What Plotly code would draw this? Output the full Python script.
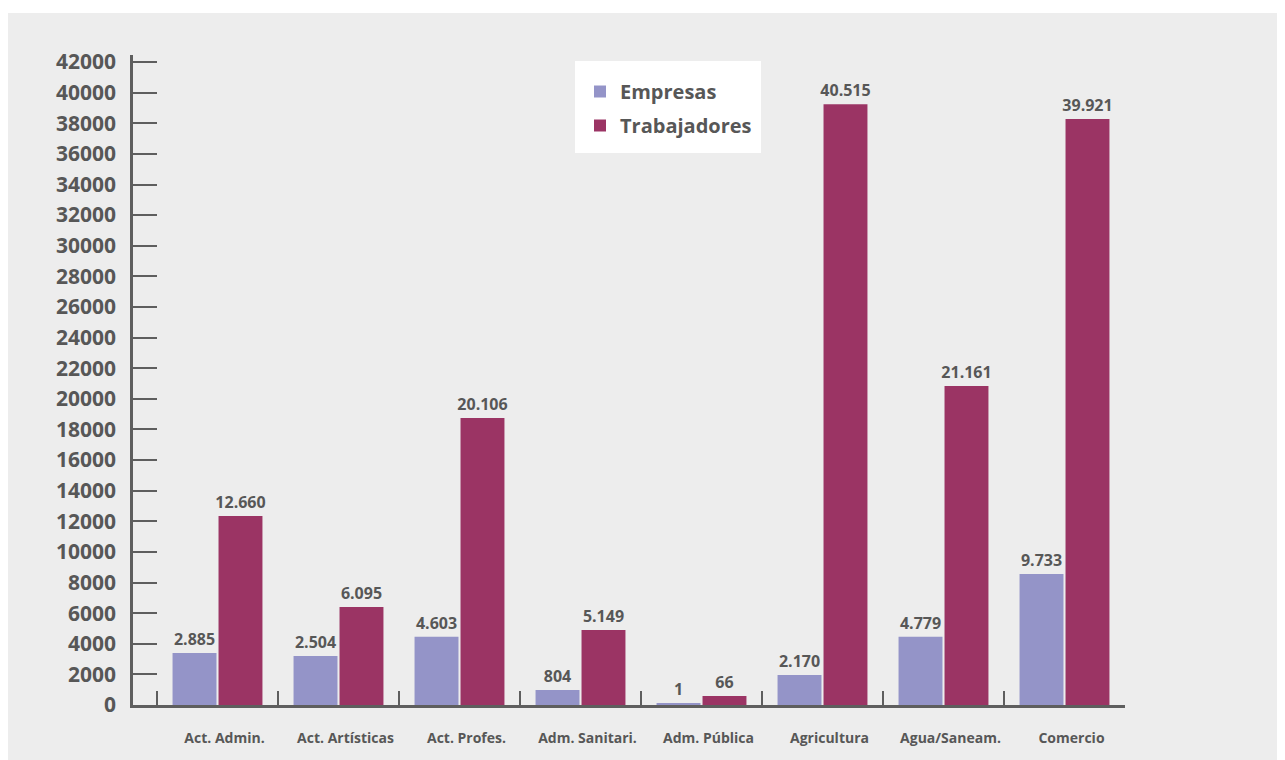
import plotly.graph_objects as go

categories = ["Act. Admin.", "Act. Artísticas", "Act. Profes.", "Adm. Sanitari.",
              "Adm. Pública", "Agricultura", "Agua/Saneam.", "Comercio"]

# bar heights as drawn in the picture
empresas_heights = [3400, 3200, 4460, 980, 100, 1960, 4460, 8560]
trabajadores_heights = [12345, 6400, 18750, 4900, 590, 39250, 20840, 38280]

# value labels printed above the bars
empresas_labels = ["2.885", "2.504", "4.603", "804", "1", "2.170", "4.779", "9.733"]
trabajadores_labels = ["12.660", "6.095", "20.106", "5.149", "66", "40.515", "21.161", "39.921"]

y_ticks = list(range(0, 42001, 2000))

GREY_TXT = "#575757"
AXIS = "#5e5e5e"
PANEL = "#ededed"
FONT = "Open Sans"

fig = go.Figure()
fig.add_trace(go.Bar(
    name="Empresas", x=categories, y=empresas_heights, legendgroup="e",
    marker=dict(color="#9494c8", line=dict(width=0)),
    text=empresas_labels, textposition="outside", cliponaxis=False,
    constraintext="none",
    textfont=dict(family=FONT, size=16, color=GREY_TXT, weight="bold"),
    hoverinfo="x+name",
))
fig.add_trace(go.Bar(
    name="Trabajadores", x=categories, y=trabajadores_heights, legendgroup="t",
    marker=dict(color="#9b3464", line=dict(width=0)),
    text=trabajadores_labels, textposition="outside", cliponaxis=False,
    constraintext="none",
    textfont=dict(family=FONT, size=16, color=GREY_TXT, weight="bold"),
    hoverinfo="x+name",
))

W, H = 1285, 760
ml, mr, mt, mb = 125, 168, 47, 63
pw = W - ml - mr
ph = H - mt - mb

def px_x(x):
    return (x - ml) / pw

def px_y(y):
    return (H - mb - y) / ph

# white strip at the very top of the page
fig.add_shape(type="rect", xref="paper", yref="paper",
              x0=px_x(-20), x1=px_x(1300), y0=px_y(5), y1=px_y(-20),
              fillcolor="white", line=dict(width=0), layer="below")
# white legend box
fig.add_shape(type="rect", xref="paper", yref="paper",
              x0=px_x(567), x1=px_x(753), y0=px_y(145), y1=px_y(53),
              fillcolor="white", line=dict(width=0), layer="below")

fig.update_layout(
    width=W, height=H,
    margin=dict(l=ml, r=mr, t=mt, b=mb, pad=0),
    paper_bgcolor=PANEL, plot_bgcolor="rgba(0,0,0,0)",
    barmode="group", bargap=0.24, bargroupgap=0.045,
    font=dict(family=FONT, color=GREY_TXT),
    showlegend=True,
    legend=dict(
        x=px_x(572), y=px_y(64), xanchor="left", yanchor="top",
        bgcolor="rgba(0,0,0,0)", borderwidth=0,
        font=dict(family=FONT, size=20, color=GREY_TXT, weight="bold"),
        itemwidth=30, tracegroupgap=5,
    ),
    xaxis=dict(
        type="category",
        range=[-0.5 - 24 / 121, 7.5],
        showline=True, linecolor=AXIS, linewidth=2.5,
        ticks="inside", tickson="boundaries", ticklen=14, tickwidth=2, tickcolor=AXIS,
        tickfont=dict(family=FONT, size=14, color=GREY_TXT, weight="bold"),
        ticklabelstandoff=18, ticklabelshift=7,
        showgrid=False, zeroline=False, fixedrange=True,
    ),
    yaxis=dict(
        range=[0, 42460],
        tickvals=y_ticks, tickformat="d",
        showline=True, linecolor=AXIS, linewidth=2.5,
        ticks="inside", ticklen=24, tickwidth=2, tickcolor=AXIS,
        tickfont=dict(family=FONT, size=21, color=GREY_TXT, weight="bold"),
        ticklabelstandoff=10,
        showgrid=False, zeroline=False, fixedrange=True,
    ),
)

fig.write_html("out.html")
